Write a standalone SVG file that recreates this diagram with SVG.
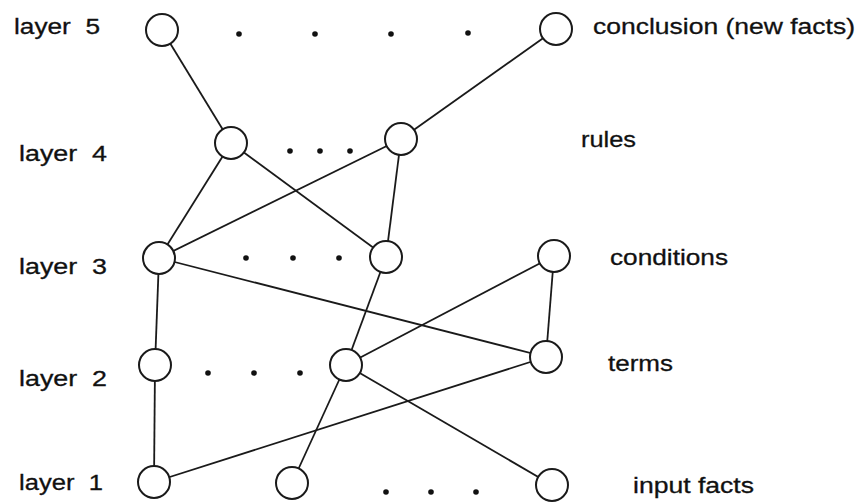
<svg xmlns="http://www.w3.org/2000/svg" width="859" height="504" viewBox="0 0 859 504">
<style>
.n{fill:#fff;stroke:#1a1a1a;stroke-width:2}
.e{stroke:#1a1a1a;stroke-width:1.8;fill:none}
.d{fill:#111}
text{font-family:"Liberation Sans",Arial,sans-serif;font-size:22px;fill:#111;stroke:#111;stroke-width:0.3}
</style>
<rect width="859" height="504" fill="#fff"/>
<g id="connectors">
<line class="e" x1="162" y1="30" x2="231" y2="143"/>
<line class="e" x1="556" y1="29" x2="401" y2="139"/>
<line class="e" x1="231" y1="143" x2="159" y2="258"/>
<line class="e" x1="231" y1="143" x2="386" y2="257"/>
<line class="e" x1="401" y1="139" x2="159" y2="258"/>
<line class="e" x1="401" y1="139" x2="386" y2="257"/>
<line class="e" x1="159" y1="258" x2="155" y2="365"/>
<line class="e" x1="159" y1="258" x2="546" y2="357"/>
<line class="e" x1="386" y1="257" x2="346" y2="365"/>
<line class="e" x1="554" y1="256" x2="346" y2="365"/>
<line class="e" x1="554" y1="256" x2="546" y2="357"/>
<line class="e" x1="155" y1="365" x2="154" y2="482"/>
<line class="e" x1="154" y1="482" x2="546" y2="357"/>
<line class="e" x1="346" y1="365" x2="292" y2="483"/>
<line class="e" x1="346" y1="365" x2="552" y2="485"/>
</g>
<g id="n5a"><circle class="n" cx="162" cy="30" r="16"/></g>
<g id="n5b"><circle class="n" cx="556" cy="29" r="16"/></g>
<g id="n4a"><circle class="n" cx="231" cy="143" r="16"/></g>
<g id="n4b"><circle class="n" cx="401" cy="139" r="16"/></g>
<g id="n3a"><circle class="n" cx="159" cy="258" r="16"/></g>
<g id="n3b"><circle class="n" cx="386" cy="257" r="16"/></g>
<g id="n3c"><circle class="n" cx="554" cy="256" r="16"/></g>
<g id="n2a"><circle class="n" cx="155" cy="365" r="16"/></g>
<g id="n2b"><circle class="n" cx="346" cy="365" r="16"/></g>
<g id="n2c"><circle class="n" cx="546" cy="357" r="16"/></g>
<g id="n1a"><circle class="n" cx="154" cy="482" r="16"/></g>
<g id="n1b"><circle class="n" cx="292" cy="483" r="16"/></g>
<g id="n1c"><circle class="n" cx="552" cy="485" r="16"/></g>
<g id="dots">
<circle class="d" cx="239" cy="34" r="2.8"/><circle class="d" cx="315" cy="34" r="2.8"/><circle class="d" cx="391" cy="34" r="2.8"/><circle class="d" cx="468" cy="33" r="2.8"/>
<circle class="d" cx="290" cy="151" r="2.8"/><circle class="d" cx="320" cy="151" r="2.8"/><circle class="d" cx="350" cy="151" r="2.8"/>
<circle class="d" cx="246" cy="258" r="2.8"/><circle class="d" cx="293" cy="258" r="2.8"/><circle class="d" cx="339" cy="258" r="2.8"/>
<circle class="d" cx="208" cy="373" r="2.8"/><circle class="d" cx="254" cy="373" r="2.8"/><circle class="d" cx="300" cy="373" r="2.8"/>
<circle class="d" cx="386" cy="492" r="2.8"/><circle class="d" cx="431" cy="492" r="2.8"/><circle class="d" cx="476" cy="492" r="2.8"/>
</g>
<g id="labels">
<text x="14" y="34" textLength="86" lengthAdjust="spacingAndGlyphs" xml:space="preserve">layer  5</text>
<text x="19" y="161" textLength="88" lengthAdjust="spacingAndGlyphs" xml:space="preserve">layer  4</text>
<text x="19" y="274" textLength="88" lengthAdjust="spacingAndGlyphs" xml:space="preserve">layer  3</text>
<text x="19" y="386" textLength="88" lengthAdjust="spacingAndGlyphs" xml:space="preserve">layer  2</text>
<text x="19" y="490" textLength="84" lengthAdjust="spacingAndGlyphs" xml:space="preserve">layer  1</text>
<text x="593" y="34" textLength="262" lengthAdjust="spacingAndGlyphs">conclusion (new facts)</text>
<text x="581" y="147" textLength="55" lengthAdjust="spacingAndGlyphs">rules</text>
<text x="610" y="265" textLength="118" lengthAdjust="spacingAndGlyphs">conditions</text>
<text x="608" y="371" textLength="65" lengthAdjust="spacingAndGlyphs">terms</text>
<text x="633" y="493" textLength="121" lengthAdjust="spacingAndGlyphs">input facts</text>
</g>
</svg>
